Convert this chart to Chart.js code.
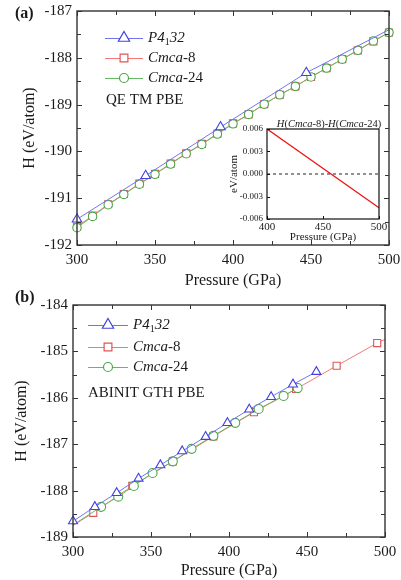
<!DOCTYPE html>
<html><head><meta charset="utf-8">
<script src="https://cdn.jsdelivr.net/npm/chart.js@4/dist/chart.umd.min.js"></script>
<style>
html,body{margin:0;padding:0;background:#fff;}
#wrap{position:relative;width:401px;height:580px;overflow:hidden;background:#fff;}
canvas{position:absolute;}
</style></head><body>
<div id="wrap">
<canvas id="ca" width="401" height="290" style="left:0;top:0"></canvas>
<canvas id="ci" width="206" height="145" style="left:195px;top:105px"></canvas>
<canvas id="cb" width="401" height="290" style="left:0;top:290px"></canvas>
</div>
<script>
// ---------- data: panel (a) QE TM PBE ----------
const A_P41_P = [300, 344, 392, 447, 500];
const A_P41_H = [-191.45, -190.52, -189.48, -188.32, -187.40];
const A_C8_P  = [300, 310, 320, 330, 340, 350, 360, 370, 380, 390, 400, 410, 420, 430, 440, 450, 460, 470, 480, 490, 500];
const A_C8_H  = [-191.61, -191.37, -191.13, -190.91, -190.69, -190.48, -190.26, -190.04, -189.84, -189.62, -189.40, -189.21, -188.99, -188.79, -188.61, -188.41, -188.22, -188.03, -187.84, -187.65, -187.46];
const A_C24_P = [300, 310, 320, 330, 340, 350, 360, 370, 380, 390, 400, 410, 420, 430, 440, 450, 460, 470, 480, 490, 500];
const A_C24_H = [-191.63, -191.39, -191.14, -190.92, -190.70, -190.49, -190.27, -190.05, -189.85, -189.63, -189.41, -189.21, -188.99, -188.79, -188.61, -188.41, -188.22, -188.03, -187.84, -187.64, -187.46];
// inset: H(Cmca-8)-H(Cmca-24)
const IN_P  = [400, 500];
const IN_DH = [0.006, -0.0045];
const IN_ZERO = [0, 0];
// ---------- data: panel (b) ABINIT GTH PBE ----------
const B_P41_P = [300, 314, 328, 342, 356, 370, 385, 399, 413, 427, 441, 456];
const B_P41_H = [-188.66, -188.35, -188.05, -187.74, -187.45, -187.15, -186.84, -186.54, -186.25, -185.98, -185.71, -185.44];
const B_C8_P  = [300, 313, 338, 364, 390, 416, 443, 469, 495, 500];
const B_C8_H  = [-188.75, -188.48, -187.90, -187.37, -186.83, -186.31, -185.81, -185.31, -184.82, -184.74];
const B_C24_P = [300, 318, 329, 339, 351, 364, 376, 390, 404, 419, 435, 444];
const B_C24_H = [-188.74, -188.35, -188.13, -187.90, -187.62, -187.37, -187.10, -186.82, -186.54, -186.24, -185.96, -185.79];
// tick labels
const X_TICKS = [300, 350, 400, 450, 500];
const A_Y_TICKS = [-192, -191, -190, -189, -188, -187];
const B_Y_TICKS = [-189, -188, -187, -186, -185, -184];
const IN_X_TICKS = [400, 450, 500];
const IN_Y_TICKS = [-0.006, -0.003, 0, 0.003, 0.006];
// labels
const SERIES = ['P4\u208132', 'Cmca-8', 'Cmca-24'];

const FONT = '"Liberation Serif", "Times New Roman", Times, serif';
const INK = '#1a1a1a';
const COL = {
  blue:  {line: '#7373f2', mark: '#4141e0'},
  red:   {line: '#f27878', mark: '#e05555'},
  green: {line: '#66b866', mark: '#48a848'}
};
const SEGS = [
  [{t:'P4', i:1}, {t:'1', sub:1}, {t:'32', i:1}],
  [{t:'Cmca', i:1}, {t:'-8'}],
  [{t:'Cmca', i:1}, {t:'-24'}]
];

function pts(xs, ys) { return xs.map((x, i) => ({x: x, y: ys[i]})); }
function near(v, step) { const q = v / step; return Math.abs(q - Math.round(q)) < 1e-6; }

function drawRich(ctx, segs, x, y, size, align) {
  const f = s => (s.i ? 'italic ' : '') + (s.b ? 'bold ' : '') + (s.sub ? Math.round(size * 0.65) : size) + 'px ' + FONT;
  let w = 0;
  segs.forEach(s => { ctx.font = f(s); w += ctx.measureText(s.t).width; });
  let cx = align === 'center' ? x - w / 2 : x;
  ctx.textBaseline = 'middle'; ctx.textAlign = 'left';
  segs.forEach(s => {
    ctx.font = f(s);
    ctx.fillText(s.t, cx, s.sub ? y + size * 0.32 : y);
    cx += ctx.measureText(s.t).width;
  });
}

function marker(ctx, style, x, y, r) {
  ctx.beginPath();
  if (style === 'triangle') {
    for (let k = 0; k < 3; k++) {
      const a = k * 2 * Math.PI / 3;
      const px = x + Math.sin(a) * r, py = y - Math.cos(a) * r;
      if (k === 0) ctx.moveTo(px, py); else ctx.lineTo(px, py);
    }
    ctx.closePath();
  } else if (style === 'rect') {
    const s = Math.SQRT1_2 * r;
    ctx.rect(x - s, y - s, 2 * s, 2 * s);
  } else {
    ctx.arc(x, y, r, 0, 2 * Math.PI);
  }
  ctx.fill(); ctx.stroke();
}

const framePlugin = {
  id: 'frame',
  beforeDatasetsDraw(chart, args, o) {
    if (!o.fill) return;
    const {ctx, chartArea: a} = chart;
    ctx.save(); ctx.fillStyle = o.fill;
    ctx.fillRect(a.left, a.top, a.right - a.left, a.bottom - a.top);
    ctx.restore();
  },
  afterDatasetsDraw(chart, args, o) {
    const {ctx, chartArea: a, scales} = chart;
    ctx.save();
    ctx.strokeStyle = o.color; ctx.lineWidth = o.width;
    ctx.strokeRect(a.left, a.top, a.right - a.left, a.bottom - a.top);
    ctx.lineWidth = o.tickWidth;
    const xs = scales.x, ys = scales.y;
    ctx.beginPath();
    xs.ticks.forEach(t => {
      const px = Math.round(xs.getPixelForValue(t.value)) + 0.5;
      const L = near(t.value, o.xMajor) ? o.major : o.minor;
      if (o.bottom) { ctx.moveTo(px, a.bottom); ctx.lineTo(px, a.bottom - L); }
      if (o.top) { ctx.moveTo(px, a.top); ctx.lineTo(px, a.top + L); }
    });
    ys.ticks.forEach(t => {
      const py = Math.round(ys.getPixelForValue(t.value)) + 0.5;
      const L = near(t.value, o.yMajor) ? o.major : o.minor;
      if (o.left) { ctx.moveTo(a.left, py); ctx.lineTo(a.left + L, py); }
      if (o.right) { ctx.moveTo(a.right, py); ctx.lineTo(a.right - L, py); }
    });
    ctx.stroke();
    ctx.restore();
  }
};

const keyPlugin = {
  id: 'keybox',
  afterDraw(chart, args, o) {
    const ctx = chart.ctx;
    ctx.save();
    if (o.items) {
      o.items.forEach((it, k) => {
        const y = o.ys[k];
        ctx.strokeStyle = it.line; ctx.lineWidth = 1;
        ctx.beginPath(); ctx.moveTo(o.x0, y + 0.5); ctx.lineTo(o.x1, y + 0.5); ctx.stroke();
        ctx.strokeStyle = it.mark; ctx.fillStyle = '#fff'; ctx.lineWidth = 1.2;
        marker(ctx, it.style, (o.x0 + o.x1) / 2, y, it.r);
        ctx.fillStyle = INK;
        drawRich(ctx, it.segs, o.tx, y, o.size, 'left');
      });
    }
    (o.texts || []).forEach(t => {
      ctx.fillStyle = INK;
      drawRich(ctx, t.segs, t.x, t.y, t.size, t.align || 'left');
    });
    ctx.restore();
  }
};

function series(label, xs, ys, c, style, r, order) {
  return {
    label: label, data: pts(xs, ys), order: order,
    borderColor: c.line, borderWidth: 1,
    pointStyle: style, pointRadius: r, pointBorderColor: c.mark,
    pointBackgroundColor: '#fff', pointBorderWidth: 1.1,
    tension: 0, clip: false, fill: false
  };
}

function axisX(min, max, step, labels, size, pad, h, title, tsize, tpad) {
  return {
    type: 'linear', min: min, max: max,
    afterBuildTicks: s => { const t = []; for (let v = min; v <= max + 1e-9; v += step) t.push({value: +v.toFixed(6)}); s.ticks = t; },
    ticks: { autoSkip: false, maxRotation: 0, padding: pad, color: INK, font: {family: FONT, size: size},
      callback: v => { const m = labels.find(l => Math.abs(l - v) < 1e-9); return m === undefined ? '' : labels.fmt ? labels.fmt(m) : String(m); } },
    grid: {display: false, drawTicks: false}, border: {display: false},
    title: {display: true, text: title, color: INK, font: {family: FONT, size: tsize}, padding: {top: 0, bottom: tpad}},
    afterFit: s => { s.height = h; s.paddingLeft = 0; s.paddingRight = 0; }
  };
}
function axisY(min, max, step, labels, size, pad, w, title, tsize, tpad) {
  return {
    type: 'linear', min: min, max: max,
    afterBuildTicks: s => { const t = []; for (let v = min; v <= max + 1e-9; v += step) t.push({value: +v.toFixed(6)}); s.ticks = t; },
    ticks: { autoSkip: false, padding: pad, color: INK, font: {family: FONT, size: size},
      callback: v => { const m = labels.find(l => Math.abs(l - v) < 1e-9); return m === undefined ? '' : labels.fmt ? labels.fmt(m) : String(m); } },
    grid: {display: false, drawTicks: false}, border: {display: false},
    title: {display: true, text: title, color: INK, font: {family: FONT, size: tsize}, padding: {top: tpad, bottom: 0}},
    afterFit: s => { s.width = w; s.paddingTop = 0; s.paddingBottom = 0; }
  };
}

const baseOpts = { responsive: false, animation: false, events: [] };
const frameMain = {color: '#333', width: 1.4, tickWidth: 1, major: 5, minor: 4, xMajor: 50, yMajor: 1, top: 1, bottom: 1, left: 1, right: 1};

// ---------- panel (a) ----------
new Chart(document.getElementById('ca'), {
  type: 'line',
  data: { datasets: [
    series(SERIES[0], A_P41_P, A_P41_H, COL.blue, 'triangle', [5.5, 5.5, 5.5, 5.5, 0], 0),
    series(SERIES[1], A_C8_P, A_C8_H, COL.red, 'rect', 5, 2),
    series(SERIES[2], A_C24_P, A_C24_H, COL.green, 'circle', 4.2, 1)
  ]},
  options: Object.assign({}, baseOpts, {
    layout: {padding: {left: 0, right: 12, top: 11, bottom: 0}},
    plugins: {
      legend: {display: false}, tooltip: {enabled: false},
      frame: frameMain,
      keybox: {
        x0: 105, x1: 143, tx: 148, ys: [38, 58, 78], size: 15,
        items: [
          {segs: SEGS[0], line: COL.blue.line, mark: COL.blue.mark, style: 'triangle', r: 6.5},
          {segs: SEGS[1], line: COL.red.line, mark: COL.red.mark, style: 'rect', r: 5.5},
          {segs: SEGS[2], line: COL.green.line, mark: COL.green.mark, style: 'circle', r: 4.5}
        ],
        texts: [
          {segs: [{t: 'QE TM PBE'}], x: 106, y: 100, size: 15},
          {segs: [{t: '(a)', b: 1}], x: 15, y: 14, size: 16}
        ]
      }
    },
    scales: {
      x: axisX(300, 500, 25, X_TICKS, 15, 6, 45, 'Pressure (GPa)', 16, 0),
      y: axisY(-192, -187, 0.5, A_Y_TICKS, 15, 5, 77, 'H (eV/atom)', 16, 20)
    }
  }),
  plugins: [framePlugin, keyPlugin]
});

// ---------- inset ----------
const inYLabels = IN_Y_TICKS.slice(); inYLabels.fmt = v => v.toFixed(3);
new Chart(document.getElementById('ci'), {
  type: 'line',
  data: { datasets: [
    {label: 'H(Cmca-8)-H(Cmca-24)', data: pts(IN_P, IN_DH), borderColor: '#ee1111', borderWidth: 1.3, pointRadius: 0, tension: 0, order: 0},
    {label: 'zero', data: pts(IN_P, IN_ZERO), borderColor: '#222', borderWidth: 1, borderDash: [3, 3], pointRadius: 0, order: 1}
  ]},
  options: Object.assign({}, baseOpts, {
    layout: {padding: {left: 0, right: 22, top: 24, bottom: 0}},
    plugins: {
      legend: {display: false}, tooltip: {enabled: false},
      frame: {fill: '#fff', color: '#111', width: 1.2, tickWidth: 1, major: 3, minor: 3, xMajor: 50, yMajor: 0.003, bottom: 1, left: 1},
      keybox: {
        texts: [{segs: [{t: 'H', i: 1}, {t: '('}, {t: 'Cmca', i: 1}, {t: '-8)-'}, {t: 'H', i: 1}, {t: '('}, {t: 'Cmca', i: 1}, {t: '-24)'}],
                 x: 134, y: 19, size: 10.5, align: 'center'}]
      }
    },
    scales: {
      x: axisX(400, 500, 50, IN_X_TICKS, 11, 2, 31, 'Pressure (GPa)', 11, 6),
      y: axisY(-0.006, 0.006, 0.003, inYLabels, 9, 4, 72, 'eV/atom', 11, 33)
    }
  }),
  plugins: [framePlugin, keyPlugin]
});

// ---------- panel (b) ----------
new Chart(document.getElementById('cb'), {
  type: 'line',
  data: { datasets: [
    series(SERIES[0], B_P41_P, B_P41_H, COL.blue, 'triangle', 5.2, 0),
    series(SERIES[1], B_C8_P, B_C8_H, COL.red, 'rect', [0, 5, 5, 5, 5, 5, 5, 5, 5, 0], 2),
    series(SERIES[2], B_C24_P, B_C24_H, COL.green, 'circle', [0, 4.5, 4.5, 4.5, 4.5, 4.5, 4.5, 4.5, 4.5, 4.5, 4.5, 4.5], 1)
  ]},
  options: Object.assign({}, baseOpts, {
    layout: {padding: {left: 0, right: 16, top: 15, bottom: 0}},
    plugins: {
      legend: {display: false}, tooltip: {enabled: false},
      frame: frameMain,
      keybox: {
        x0: 88, x1: 128, tx: 133, ys: [35, 57, 77], size: 15,
        items: [
          {segs: SEGS[0], line: COL.blue.line, mark: COL.blue.mark, style: 'triangle', r: 6.5},
          {segs: SEGS[1], line: COL.red.line, mark: COL.red.mark, style: 'rect', r: 5.5},
          {segs: SEGS[2], line: COL.green.line, mark: COL.green.mark, style: 'circle', r: 4.5}
        ],
        texts: [
          {segs: [{t: 'ABINIT GTH PBE'}], x: 88, y: 103, size: 15},
          {segs: [{t: '(b)', b: 1}], x: 15, y: 8, size: 16}
        ]
      }
    },
    scales: {
      x: axisX(300, 500, 25, X_TICKS, 15, 6, 43, 'Pressure (GPa)', 16, 0),
      y: axisY(-189, -184, 0.5, B_Y_TICKS, 15, 5, 73, 'H (eV/atom)', 16, 12)
    }
  }),
  plugins: [framePlugin, keyPlugin]
});
</script>
</body></html>
